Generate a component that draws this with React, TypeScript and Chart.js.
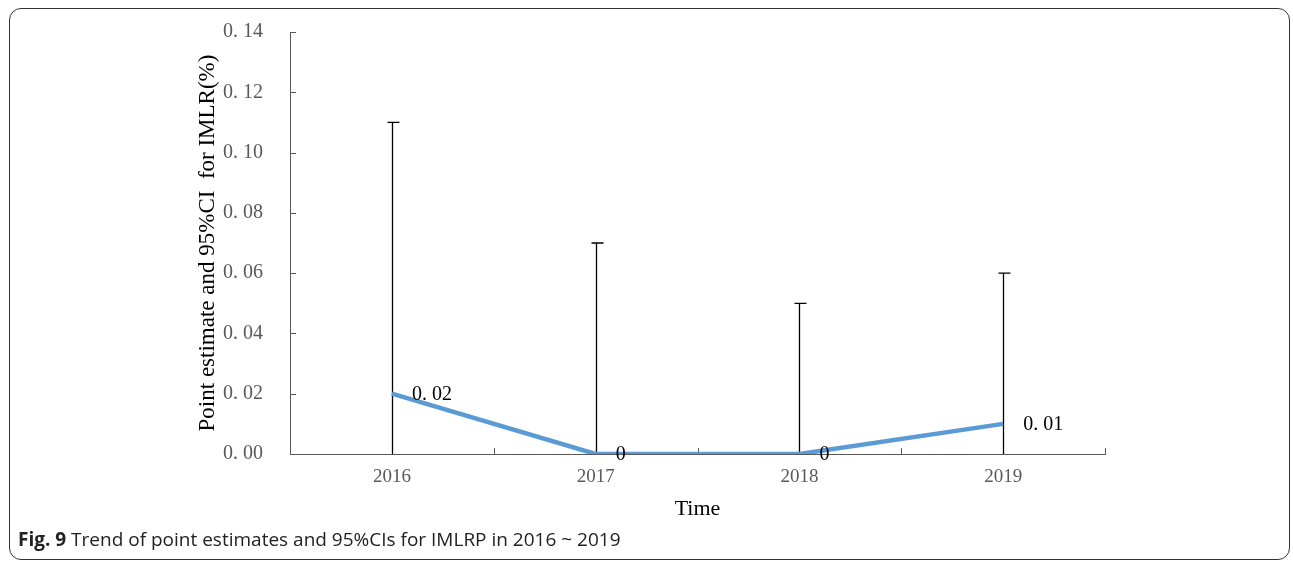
import React, { useEffect, useRef } from "react";
import { Chart, registerables } from "chart.js";

Chart.register(...registerables);

const years = ["2016", "2017", "2018", "2019"];
const pointEstimates = [0.02, 0, 0, 0.01];
const lowerCI = [0, 0, 0, 0];
const upperCI = [0.11, 0.07, 0.05, 0.06];
const pointLabels = ["0. 02", "0", "0", "0. 01"];
const yMin = 0;
const yMax = 0.14;
const yStep = 0.02;

const SERIF = "'Liberation Serif', 'Times New Roman', serif";

const overlayPlugin = {
  id: "overlay",
  beforeDatasetsDraw(chart: any) {
    const { ctx, scales } = chart;
    const x = scales.x;
    const y = scales.y;
    ctx.save();
    ctx.strokeStyle = "#595959";
    ctx.lineWidth = 1;
    y.ticks.forEach((t: any) => {
      const py = Math.round(y.getPixelForValue(t.value)) + 0.5;
      ctx.beginPath();
      ctx.moveTo(x.left, py);
      ctx.lineTo(x.left + 6, py);
      ctx.stroke();
    });
    const n = years.length;
    const w = (x.right - x.left) / n;
    for (let k = 1; k <= n; k++) {
      const px = Math.round(x.left + w * k) + 0.5;
      ctx.beginPath();
      ctx.moveTo(px, y.bottom);
      ctx.lineTo(px, y.bottom - 6);
      ctx.stroke();
    }
    ctx.strokeStyle = "#000000";
    ctx.lineWidth = 1.3;
    years.forEach((_, i) => {
      const px = Math.round(x.getPixelForValue(i)) + 0.5;
      const top = y.getPixelForValue(upperCI[i]);
      const bot = y.getPixelForValue(lowerCI[i]);
      ctx.beginPath();
      ctx.moveTo(px, bot);
      ctx.lineTo(px, top);
      ctx.moveTo(px - 5, top);
      ctx.lineTo(px + 7, top);
      ctx.stroke();
    });
    ctx.restore();
  },
  afterDatasetsDraw(chart: any) {
    const { ctx, scales } = chart;
    const x = scales.x;
    const y = scales.y;
    ctx.save();
    ctx.fillStyle = "#000000";
    ctx.font = `20px ${SERIF}`;
    ctx.textAlign = "left";
    ctx.textBaseline = "middle";
    years.forEach((_, i) => {
      const px = x.getPixelForValue(i);
      const py = y.getPixelForValue(pointEstimates[i]);
      ctx.fillText(pointLabels[i], px + 20, py + 1);
    });
    ctx.restore();
  },
};

export default function App() {
  const canvasRef = useRef<HTMLCanvasElement | null>(null);

  useEffect(() => {
    if (!canvasRef.current) return;
    const chart = new Chart(canvasRef.current, {
      type: "line",
      data: {
        labels: years,
        datasets: [
          {
            data: pointEstimates,
            borderColor: "#5B9BD5",
            backgroundColor: "#5B9BD5",
            borderWidth: 4.5,
            pointRadius: 0,
            tension: 0,
            fill: false,
          },
        ],
      },
      options: {
        responsive: false,
        animation: false,
        layout: { padding: { left: 0, top: 32, right: 188, bottom: 0 } },
        plugins: {
          legend: { display: false },
          tooltip: { enabled: false },
        },
        scales: {
          x: {
            type: "category",
            offset: true,
            grid: { display: false, drawTicks: false },
            border: { display: true, color: "#595959", width: 1 },
            ticks: {
              color: "#595959",
              font: { family: SERIF, size: 19 },
              padding: 12,
            },
            title: {
              display: true,
              text: "Time",
              color: "#000000",
              font: { family: SERIF, size: 22 },
              padding: { top: 0, bottom: 8 },
            },
            afterFit: (scale: any) => {
              scale.height = 76;
            },
          },
          y: {
            min: yMin,
            max: yMax,
            grid: { display: false, drawTicks: false },
            border: { display: true, color: "#595959", width: 1 },
            ticks: {
              stepSize: yStep,
              color: "#595959",
              font: { family: SERIF, size: 20 },
              padding: 27,
              callback: (v: any) => Number(v).toFixed(2).replace(".", ". "),
            },
            title: {
              display: true,
              text: "Point estimate and 95%CI  for IMLR(%)",
              color: "#000000",
              font: { family: SERIF, size: 23 },
              padding: { top: 194, bottom: 0 },
            },
            afterFit: (scale: any) => {
              scale.width = 290;
              scale.paddingTop = 0;
              scale.paddingBottom = 0;
            },
          },
        },
      },
      plugins: [overlayPlugin],
    });
    return () => chart.destroy();
  }, []);

  return (
    <div style={{ position: "absolute", left: 0, top: 0, width: 1293, height: 563, background: "#fff" }}>
      <div
        style={{
          position: "absolute",
          left: 9,
          top: 8,
          width: 1281,
          height: 552,
          border: "1.5px solid #333",
          borderRadius: 12,
          boxSizing: "border-box",
        }}
      />
      <canvas
        ref={canvasRef}
        width={1293}
        height={530}
        style={{ position: "absolute", left: 0, top: 0, width: 1293, height: 530 }}
      />
      <div
        style={{
          position: "absolute",
          left: 18,
          top: 526,
          fontFamily: "'Open Sans', sans-serif",
          fontSize: 19,
          color: "#222",
          whiteSpace: "nowrap",
        }}
      >
        <b>Fig. 9</b> Trend of point estimates and 95%CIs for IMLRP in 2016 ~ 2019
      </div>
    </div>
  );
}
